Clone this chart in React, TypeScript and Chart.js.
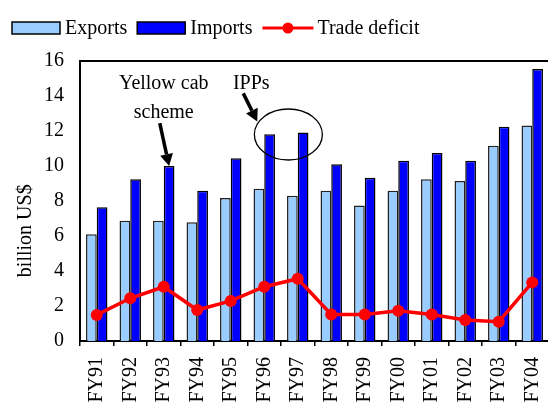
import React, { useEffect, useRef } from "react";
import { Chart, registerables } from "chart.js";

Chart.register(...registerables);

const categories = ["FY91", "FY92", "FY93", "FY94", "FY95", "FY96", "FY97", "FY98", "FY99", "FY00", "FY01", "FY02", "FY03", "FY04"];
const exportsData = [6.1, 6.87, 6.87, 6.78, 8.17, 8.7, 8.3, 8.59, 7.75, 8.59, 9.24, 9.14, 11.16, 12.32];
const importsData = [7.64, 9.24, 10.0, 8.59, 10.44, 11.81, 11.92, 10.1, 9.33, 10.3, 10.74, 10.3, 12.25, 15.54];
const deficitData = [1.49, 2.44, 3.1, 1.77, 2.29, 3.1, 3.56, 1.52, 1.52, 1.73, 1.52, 1.2, 1.1, 3.35];
const yTicks = [0, 2, 4, 6, 8, 10, 12, 14, 16];

const FONT = "'Liberation Serif', 'Times New Roman', serif";
const EXPORT_COLOR = "#99CCFF";
const IMPORT_COLOR = "#0000FF";
const DEFICIT_COLOR = "#FF0000";

const CANVAS_W = 570;

function drawArrow(ctx: CanvasRenderingContext2D, x1: number, y1: number, x2: number, y2: number) {
  const ang = Math.atan2(y2 - y1, x2 - x1);
  const headLen = 12;
  const headW = 6.5;
  const bx = x2 - headLen * Math.cos(ang);
  const by = y2 - headLen * Math.sin(ang);
  ctx.save();
  ctx.strokeStyle = "#000";
  ctx.fillStyle = "#000";
  ctx.lineWidth = 3.5;
  ctx.beginPath();
  ctx.moveTo(x1, y1);
  ctx.lineTo(bx, by);
  ctx.stroke();
  ctx.beginPath();
  ctx.moveTo(x2, y2);
  ctx.lineTo(bx + headW * Math.sin(ang), by - headW * Math.cos(ang));
  ctx.lineTo(bx - headW * Math.sin(ang), by + headW * Math.cos(ang));
  ctx.closePath();
  ctx.fill();
  ctx.restore();
}

const customPlugin = {
  id: "customDecor",
  afterDraw(chart: any) {
    const ctx: CanvasRenderingContext2D = chart.ctx;
    const { chartArea } = chart;
    const xs = chart.scales.x;
    const ys = chart.scales.y;

    // top frame line
    ctx.save();
    ctx.strokeStyle = "#000";
    ctx.lineWidth = 2;
    ctx.beginPath();
    ctx.moveTo(chartArea.left, chartArea.top);
    ctx.lineTo(chartArea.right, chartArea.top);
    ctx.stroke();
    ctx.restore();

    // legend
    ctx.save();
    ctx.font = "20px " + FONT;
    ctx.textBaseline = "middle";
    ctx.textAlign = "left";
    const ly = 28;
    let lx = 12;
    const ds = chart.data.datasets;
    for (let i = 0; i < ds.length; i++) {
      const d = ds[i];
      if (d.type === "line") {
        ctx.strokeStyle = d.borderColor;
        ctx.lineWidth = 3;
        ctx.beginPath();
        ctx.moveTo(lx, ly);
        ctx.lineTo(lx + 51, ly);
        ctx.stroke();
        ctx.fillStyle = d.borderColor;
        ctx.beginPath();
        ctx.arc(lx + 25.5, ly, 5.5, 0, Math.PI * 2);
        ctx.fill();
        lx += 55;
      } else {
        ctx.fillStyle = d.backgroundColor;
        ctx.fillRect(lx, ly - 6, 48, 12);
        ctx.strokeStyle = "#000";
        ctx.lineWidth = 1.5;
        ctx.strokeRect(lx, ly - 6, 48, 12);
        lx += 53;
      }
      ctx.fillStyle = "#000";
      ctx.fillText(d.label, lx, ly + 1);
      lx += ctx.measureText(d.label).width + 10;
    }
    ctx.restore();

    // y axis title
    ctx.save();
    ctx.font = "20px " + FONT;
    ctx.fillStyle = "#000";
    ctx.textAlign = "center";
    ctx.textBaseline = "middle";
    ctx.translate(26, ys.getPixelForValue(6.3));
    ctx.rotate(-Math.PI / 2);
    ctx.fillText("billion US$", 0, 0);
    ctx.restore();

    // annotations
    const impMeta = chart.getDatasetMeta(1);
    const ctrFY93 = xs.getPixelForValue(2);
    const ctrFY96 = xs.getPixelForValue(5);
    ctx.save();
    ctx.font = "20px " + FONT;
    ctx.fillStyle = "#000";
    ctx.textAlign = "center";
    ctx.textBaseline = "middle";
    ctx.fillText("Yellow cab", ctrFY93, ys.getPixelForValue(14.7));
    ctx.fillText("scheme", ctrFY93, ys.getPixelForValue(13.05));
    ctx.fillText("IPPs", ctrFY96 - 13, ys.getPixelForValue(14.7));
    ctx.restore();

    const b93 = impMeta.data[2];
    drawArrow(ctx, ctrFY93 - 4, ys.getPixelForValue(12.45), b93.x, b93.y);
    drawArrow(ctx, ctrFY96 - 21, ys.getPixelForValue(14.15), ctrFY96 - 7, ys.getPixelForValue(12.55));

    // circle around FY96 & FY97 imports
    const b96 = impMeta.data[5];
    const b97 = impMeta.data[6];
    const cx = (b96.x + b97.x) / 2 + 2;
    const cy = ys.getPixelForValue(11.8);
    ctx.save();
    ctx.strokeStyle = "#000";
    ctx.lineWidth = 1.3;
    ctx.beginPath();
    ctx.ellipse(cx, cy, 34, 25.5, 0, 0, Math.PI * 2);
    ctx.stroke();
    ctx.restore();
  },
};

export default function App() {
  const ref = useRef<HTMLCanvasElement | null>(null);
  useEffect(() => {
    if (!ref.current) return;
    const chart = new Chart(ref.current, {
      type: "bar",
      data: {
        labels: categories,
        datasets: [
          {
            type: "bar",
            label: "Exports",
            data: exportsData,
            backgroundColor: EXPORT_COLOR,
            borderColor: "#222",
            borderWidth: 1.5,
            categoryPercentage: 0.64,
            barPercentage: 1.0,
            order: 1,
          },
          {
            type: "bar",
            label: "Imports",
            data: importsData,
            backgroundColor: IMPORT_COLOR,
            borderColor: "#000",
            borderWidth: 1.5,
            categoryPercentage: 0.64,
            barPercentage: 1.0,
            order: 1,
          },
          {
            type: "line",
            label: "Trade deficit",
            data: deficitData,
            borderColor: DEFICIT_COLOR,
            backgroundColor: DEFICIT_COLOR,
            borderWidth: 3.5,
            pointRadius: 6,
            pointBorderWidth: 0,
            pointBackgroundColor: DEFICIT_COLOR,
            tension: 0,
            order: 0,
          } as any,
        ],
      },
      options: {
        animation: false,
        responsive: false,
        devicePixelRatio: 1,
        layout: { padding: { top: 61, right: 21, bottom: 0, left: 0 } },
        plugins: {
          legend: { display: false },
          tooltip: { enabled: false },
          title: { display: false },
        },
        scales: {
          x: {
            type: "category",
            offset: true,
            grid: {
              display: true,
              drawOnChartArea: false,
              drawTicks: true,
              tickLength: 5,
              color: "#000",
              lineWidth: 1.5,
              offset: true,
            },
            border: { display: true, color: "#000", width: 2 },
            ticks: {
              autoSkip: false,
              minRotation: 90,
              maxRotation: 90,
              padding: 11,
              color: "#000",
              font: { family: FONT, size: 20 },
            },
            afterFit: (scale: any) => {
              scale.height = 73;
              scale.paddingRight = 0;
            },
          },
          y: {
            min: 0,
            max: 16,
            afterBuildTicks: (scale: any) => {
              scale.ticks = yTicks.map((v) => ({ value: v }));
            },
            grid: { display: false, drawTicks: false },
            border: { display: true, color: "#000", width: 2 },
            ticks: {
              padding: 16,
              color: "#000",
              font: { family: FONT, size: 20 },
            },
            afterFit: (scale: any) => {
              scale.width = 80;
            },
          },
        },
      },
      plugins: [customPlugin],
    });
    return () => chart.destroy();
  }, []);

  return (
    <div style={{ position: "fixed", left: 0, top: 0, width: 548, height: 414, overflow: "hidden", background: "#fff" }}>
      <canvas ref={ref} width={CANVAS_W} height={414} style={{ width: CANVAS_W, height: 414, display: "block" }} />
    </div>
  );
}
